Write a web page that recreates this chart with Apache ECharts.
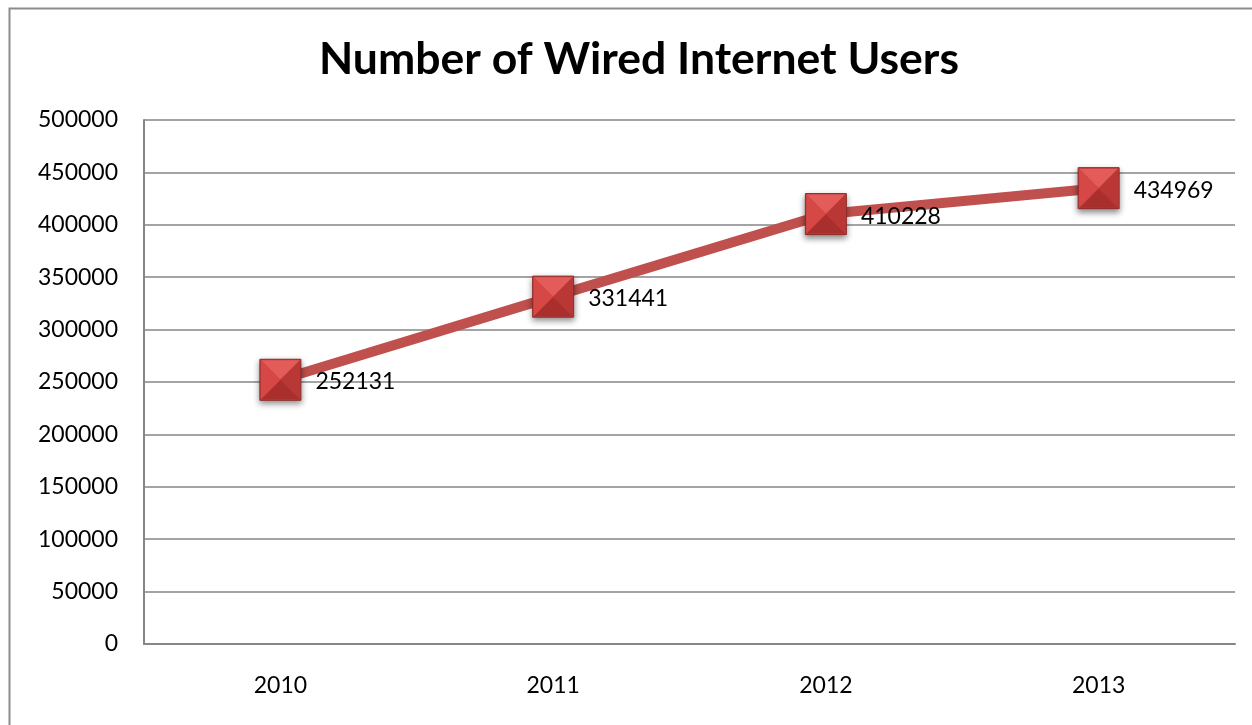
<!DOCTYPE html>
<html>
<head>
<meta charset="utf-8">
<script src="https://cdn.jsdelivr.net/npm/echarts@6/dist/echarts.min.js"></script>
<style>
  html, body { margin: 0; padding: 0; background: #fff; }
  #chart { width: 1252px; height: 725px; }
</style>
</head>
<body>
<div id="chart"></div>
<script>
// Yearly counts of wired internet users
const years = ['2010', '2011', '2012', '2013'];
const users = [252131, 331441, 410228, 434969];
const yTicks = { min: 0, max: 500000, step: 50000 };

const FONT = 'Lato';
const chart = echarts.init(document.getElementById('chart'));

// Bevelled square marker: a base square with four triangular faces on top
function face(name, path, size, offset, color) {
  return {
    name: name,
    type: 'line',
    data: users,
    silent: true,
    z: 5,
    lineStyle: { width: 0, opacity: 0 },
    symbol: 'path://' + path,
    symbolKeepAspect: false,
    symbolSize: size,
    symbolOffset: offset,
    showSymbol: true,
    itemStyle: { color: color, borderWidth: 0 },
    animation: false
  };
}

chart.setOption({
  animation: false,
  backgroundColor: '#ffffff',
  title: {
    text: 'Number of Wired Internet Users',
    left: 314,
    top: 32,
    textStyle: { fontFamily: FONT, fontWeight: 'bold', fontSize: 44.5, color: '#000' }
  },
  graphic: [{
    type: 'rect',
    shape: { x: 9.5, y: 8.5, width: 1260, height: 740 },
    style: { fill: 'none', stroke: '#8c8c8c', lineWidth: 2 },
    silent: true
  }],
  grid: { left: 144, top: 120, right: 17, bottom: 81 },
  xAxis: {
    type: 'category',
    data: years,
    boundaryGap: true,
    axisLine: { show: true, lineStyle: { color: '#868686', width: 2 } },
    axisTick: { show: false },
    axisLabel: { fontFamily: FONT, fontSize: 23, color: '#000', margin: 30 }
  },
  yAxis: {
    type: 'value',
    min: yTicks.min,
    max: yTicks.max,
    interval: yTicks.step,
    axisLine: { show: true, lineStyle: { color: '#868686', width: 2 } },
    axisTick: { show: false },
    splitLine: { lineStyle: { color: '#868686', width: 1.5 } },
    axisLabel: {
      fontFamily: FONT, fontSize: 23, color: '#000', margin: 26,
      formatter: function (v) { return String(v); }
    }
  },
  series: [
    {
      name: 'Users',
      type: 'line',
      data: users,
      z: 3,
      lineStyle: { color: '#c0504d', width: 10 },
      symbol: 'rect',
      symbolSize: 41,
      itemStyle: {
        color: '#c8413f',
        borderColor: '#8e2a28',
        borderWidth: 1,
        shadowColor: 'rgba(0,0,0,0.45)',
        shadowBlur: 6,
        shadowOffsetY: 3
      },
      label: {
        show: true,
        position: 'right',
        distance: 14,
        offset: [0, 2],
        fontFamily: FONT,
        fontSize: 23,
        color: '#000'
      }
    },
    face('top', 'M0,0 L40,0 L20,20 Z', [39, 19.5], [0, -9.75], '#e35c59'),
    face('bottom', 'M0,20 L40,20 L20,0 Z', [39, 19.5], [0, 9.75], '#a92f2d'),
    face('left', 'M0,0 L20,20 L0,40 Z', [19.5, 39], [-9.75, 0], '#d64845'),
    face('right', 'M20,0 L0,20 L20,40 Z', [19.5, 39], [9.75, 0], '#b93735')
  ]
});
</script>
</body>
</html>
